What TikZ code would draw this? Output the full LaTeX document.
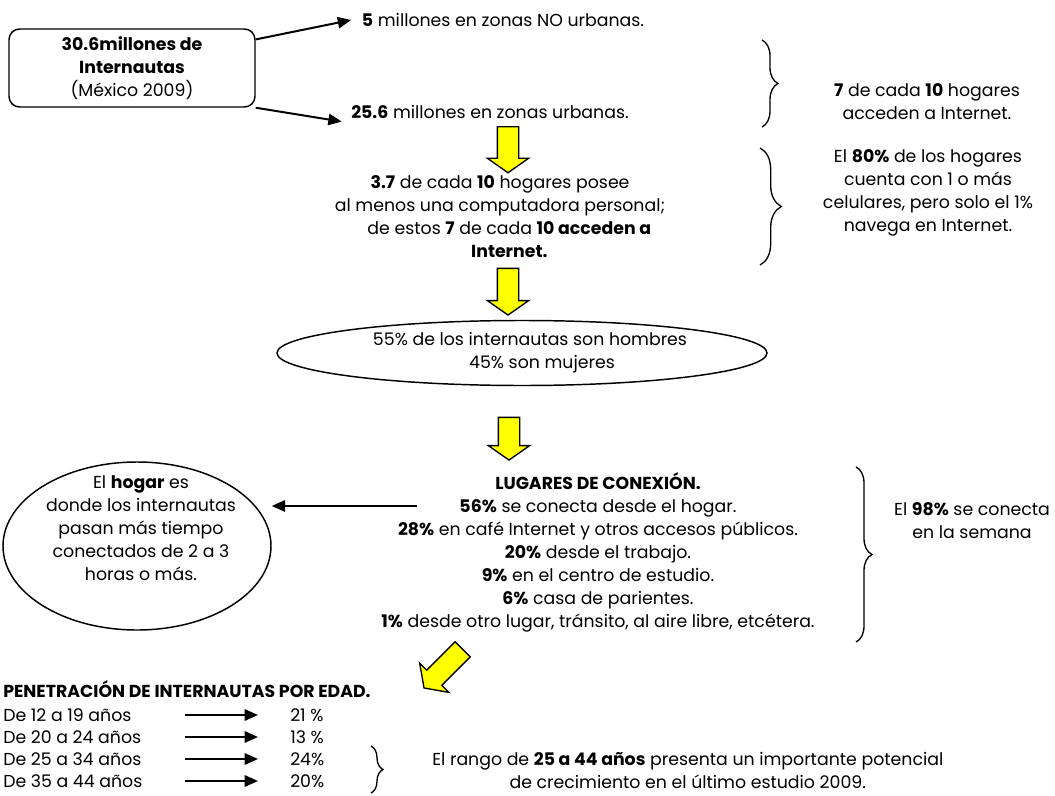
\documentclass[tikz,border=0pt]{standalone}
\usepackage{fontspec}
\setmainfont{Poppins}
\usetikzlibrary{positioning,calc,arrows.meta,shapes.geometric,shapes.arrows,decorations.pathreplacing}

\definecolor{arrowyellow}{RGB}{255,255,0}

\begin{document}
\begin{tikzpicture}[
    x=0.75pt, y=-0.75pt,
    every node/.style={font=\fontsize{13}{17.25}\selectfont},
    txt/.style={align=center, inner sep=2pt},
    frame/.style={rectangle, rounded corners=8pt, draw=black, line width=1.1pt,
      align=center, minimum width=184.5pt, minimum height=58.5pt},
    oval/.style={ellipse, draw=black, line width=1.1pt, align=center, inner sep=0pt},
    arr/.style={-{Triangle[length=10pt,width=8.5pt]}, line width=1.5pt},
    yarr/.style={single arrow, draw=black, fill=arrowyellow, line width=1pt,
      minimum width=0pt, inner xsep=0pt, inner ysep=7.5pt,
      single arrow head extend=7.5pt, single arrow tip angle=110},
    brc/.style={decorate, decoration={brace, amplitude=#1}, line width=1pt}
  ]

  \useasboundingbox (0,0) rectangle (1055,795);

  % top: total and urban split

  \node (total) [frame] at (132,68)           {\textbf{30.6millones de}\\
                                                \textbf{Internautas}\\
                                                (México 2009)};
  \node (nourb) [txt] at (503,20)             {\textbf{5} millones en zonas NO urbanas.};
  \node (urb)   [txt] at (490,112)            {\textbf{25.6} millones en zonas urbanas.};

  \draw[arr] (total.13) -- ([shift={(-6pt,0)}]nourb.west);
  \draw[arr] (total.south east) -- ([shift={(-5pt,0)}]urb.south west);

  % right column notes

  \node (hog7)  [txt] at (927,102)            {\textbf{7} de cada \textbf{10} hogares\\
                                                acceden a Internet.};
  \node (cel)   [txt] at (928,193)            {El \textbf{80\%} de los hogares\\
                                                cuenta con 1 o más\\
                                                celulares, pero solo el 1\%\\
                                                navega en Internet.};
  \draw[brc=12pt] (762,40)  -- (762,127);
  \draw[brc=16pt] (760,148) -- (760,265);

  % main flow down the middle

  \node (ya1)   [yarr, minimum height=34.5pt, rotate=-90] at (508,146) {};
  \node (pc)    [txt] at (500,217)            {\textbf{3.7} de cada \textbf{10} hogares posee\\
                                                al menos una computadora personal;\\
                                                \hspace*{14pt}de estos \textbf{7} de cada \textbf{10 acceden a}\\
                                                \hspace*{14pt}\textbf{Internet.}};
  \node (ya2)   [yarr, minimum height=35pt, rotate=-90] at (508,288) {};
  \node (gen)   [oval, minimum width=367.5pt, minimum height=48.75pt] at (522,353)
                                              {\hspace*{12pt}55\% de los internautas son hombres\\
                                                \hspace*{30pt}45\% son mujeres};
  \node (ya3)   [yarr, minimum height=32pt, rotate=-90] at (509,435) {};

  \node (lug)   [txt] at (598,552)            {\textbf{LUGARES DE CONEXIÓN.}\\
                                                \textbf{56\%} se conecta desde el hogar.\\
                                                \textbf{28\%} en café Internet y otros accesos públicos.\\
                                                \textbf{20\%} desde el trabajo.\\
                                                \textbf{9\%} en el centro de estudio.\\
                                                \textbf{6\%} casa de parientes.\\
                                                \textbf{1\%} desde otro lugar, tránsito, al aire libre, etcétera.};

  % home ellipse on the left
  \node (hogar) [oval, minimum width=201pt, minimum height=126pt] at (137,546) {};
  \node (hogtx) [txt] at (141,528)            {El \textbf{hogar} es\\
                                                donde los internautas\\
                                                pasan más tiempo\\
                                                conectados de 2 a 3\\
                                                horas o más.};
  \coordinate (lugin) at (417,506);
  \draw[arr] (lugin) -- (lugin -| hogar.east);

  % weekly note
  \draw[brc=12pt] (856,467) -- (856,642);
  \node (sem)   [txt] at (972,521)            {El \textbf{98\%} se conecta\\
                                                en la semana};

  % age penetration table
  \node (ya4)   [yarr, minimum height=41pt, rotate=-135] at (446,666) {};
  \node (pen)   [txt, anchor=west, inner sep=0pt] at (3,689)
                                              {\textbf{PENETRACIÓN DE INTERNAUTAS POR EDAD.}};

  \foreach \i/\rng/\pct/\yy in {1/12 a 19/21 \%/715, 2/20 a 24/13 \%/737,
                                3/25 a 34/24\%/759, 4/35 a 44/20\%/781} {
    \node (edad\i) [txt, anchor=west, inner sep=0pt] at (3,\yy)   {De \rng\ años};
    \node (pct\i)  [txt, anchor=west, inner sep=0pt] at (290,\yy) {\pct};
    \draw[arr] ([xshift=136.5pt]edad\i.west) -- ([xshift=-24pt]pct\i.west);
  }

  \draw[brc=9pt] (371,746) -- (371,793);
  \node (rango) [txt, anchor=west, inner sep=0pt] at (432,770)
                                              {El rango de \textbf{25 a 44 años} presenta un importante potencial\\
                                                de crecimiento en el último estudio 2009.};

\end{tikzpicture}
\end{document}
